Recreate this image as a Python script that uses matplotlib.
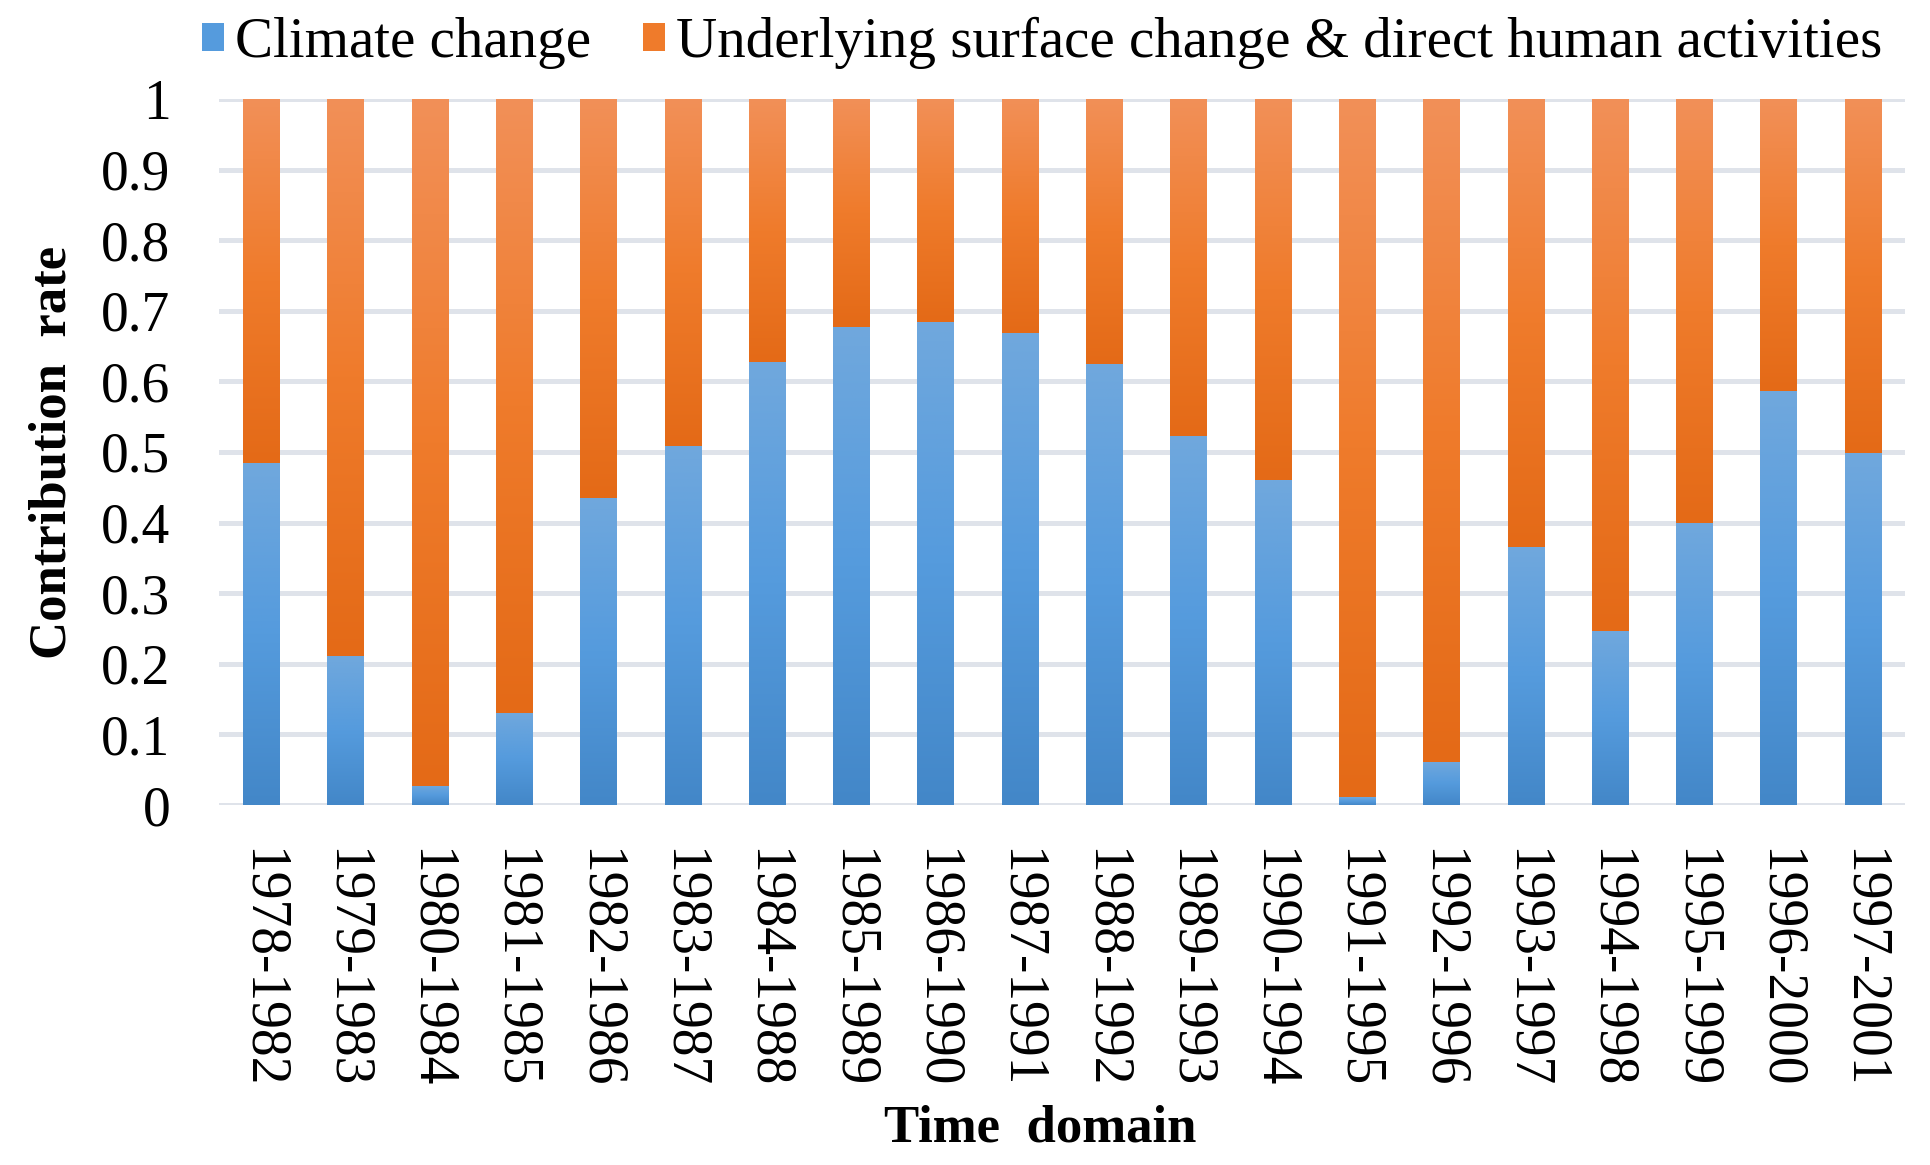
import numpy as np
import matplotlib
matplotlib.use("Agg")
import matplotlib.pyplot as plt
from matplotlib.patches import Patch
from matplotlib.colors import to_rgb

# ---------------- data ----------------
periods = ["1978-1982", "1979-1983", "1980-1984", "1981-1985", "1982-1986",
           "1983-1987", "1984-1988", "1985-1989", "1986-1990", "1987-1991",
           "1988-1992", "1989-1993", "1990-1994", "1991-1995", "1992-1996",
           "1993-1997", "1994-1998", "1995-1999", "1996-2000", "1997-2001"]
climate = [0.484, 0.211, 0.027, 0.131, 0.435, 0.509, 0.628, 0.677, 0.684, 0.668,
           0.624, 0.523, 0.460, 0.011, 0.061, 0.365, 0.247, 0.400, 0.587, 0.498]
human = [round(1 - c, 3) for c in climate]
series_names = ["Climate change",
                "Underlying surface change & direct human activities"]
yticks = [0, 0.1, 0.2, 0.3, 0.4, 0.5, 0.6, 0.7, 0.8, 0.9, 1]
ytick_labels = ["0", "0.1", "0.2", "0.3", "0.4", "0.5", "0.6", "0.7", "0.8", "0.9", "1"]

# ---------------- style ----------------
plt.rcParams['font.family'] = ['Liberation Serif', 'DejaVu Serif']
blue_stops = ['#70a8dd', '#559bdd', '#4387c8']      # top, middle, bottom
orange_stops = ['#f29058', '#ef7b2b', '#e46a17']

def gradient(stops, n=256):
    c = np.array([to_rgb(s) for s in stops])
    t = np.linspace(0, 1, n)
    out = np.empty((n, 1, 3))
    for k in range(3):
        out[:, 0, k] = np.interp(t, [0, 0.5, 1], c[:, k])
    return out

W, H = 1931, 1165
fig = plt.figure(figsize=(W / 100, H / 100), dpi=100)
ax = fig.add_axes([219 / W, 1 - 805 / H, (1905 - 219) / W, (805 - 99) / H])

x = np.arange(len(periods))
bw = 0.43
b1 = ax.bar(x, climate, width=bw, color=blue_stops[1], zorder=2, linewidth=0)
b2 = ax.bar(x, human, width=bw, bottom=climate, color=orange_stops[1], zorder=2, linewidth=0)

gb = gradient(blue_stops)
go = gradient(orange_stops)
for cont, g in ((b1, gb), (b2, go)):
    for rect in cont.patches:
        x0, y0 = rect.get_x(), rect.get_y()
        w, h = rect.get_width(), rect.get_height()
        if h <= 0:
            continue
        im = ax.imshow(g, extent=(x0, x0 + w, y0, y0 + h), origin='upper',
                       aspect='auto', interpolation='bilinear', zorder=3)
        im.set_clip_path(rect)

ax.set_xlim(-0.5, len(periods) - 0.5)
ax.set_ylim(0, 1)
ax.set_yticks(yticks)
ax.set_yticklabels(ytick_labels)
ax.set_xticks(x)
ax.set_xticklabels(periods, rotation=270)
ax.tick_params(axis='y', length=0, pad=35, labelsize=40)
ax.tick_params(axis='x', length=0, pad=31, labelsize=40)
for s in ax.spines.values():
    s.set_visible(False)
ax.yaxis.grid(True, color='#dfe3ea', linewidth=3.6, zorder=0)
ax.set_axisbelow(True)

ax.set_ylabel("Contribution  rate", fontsize=38, fontweight='bold', labelpad=18)
fig.text(1040 / W, 1 - 1129 / H, "Time  domain", fontsize=38,
         fontweight='bold', ha='center', va='center')

handles = [Patch(facecolor=blue_stops[1]), Patch(facecolor=orange_stops[1])]
fig.legend(handles, series_names, loc='center', ncol=2, frameon=False,
           bbox_to_anchor=(1042 / W, 1 - 43 / H), fontsize=41,
           handlelength=0.39, handleheight=0.39, handletextpad=0.2,
           columnspacing=0.9, borderpad=0, borderaxespad=0)

fig.savefig("out.png", dpi=100)
